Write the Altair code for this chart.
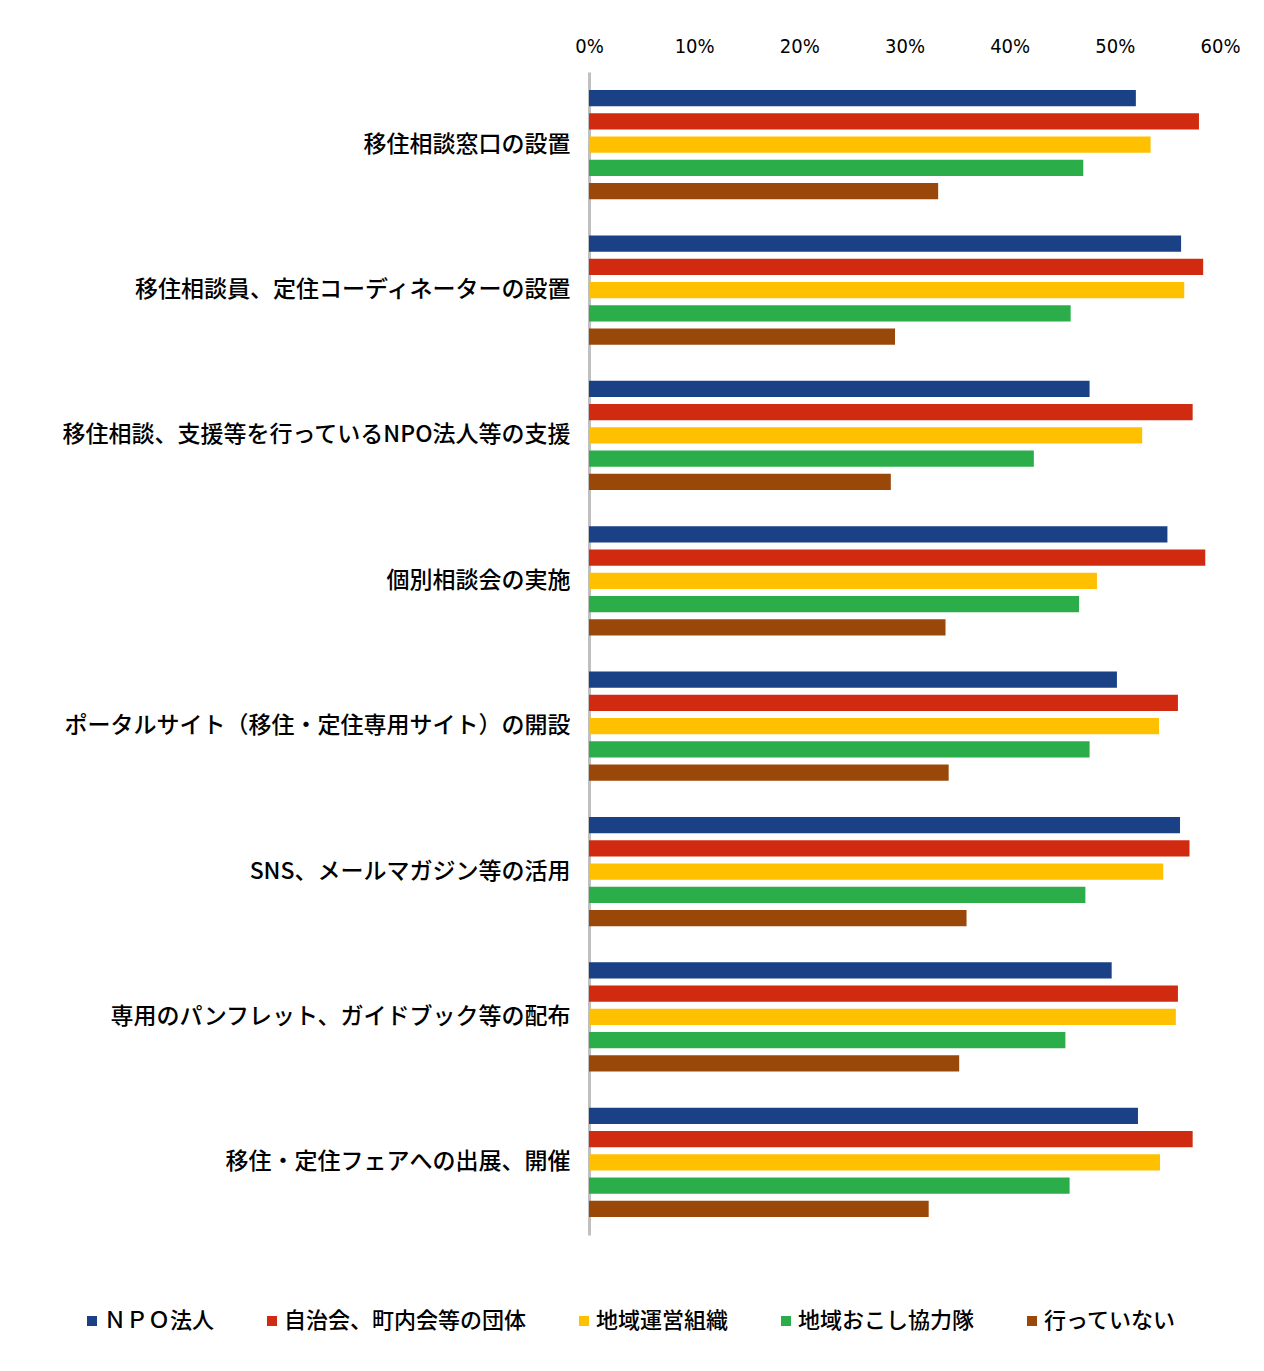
import altair as alt
import pandas as pd

categories = [
    "移住相談窓口の設置",
    "移住相談員、定住コーディネーターの設置",
    "移住相談、支援等を行っているNPO法人等の支援",
    "個別相談会の実施",
    "ポータルサイト（移住・定住専用サイト）の開設",
    "SNS、メールマガジン等の活用",
    "専用のパンフレット、ガイドブック等の配布",
    "移住・定住フェアへの出展、開催",
]
series = ["ＮＰＯ法人", "自治会、町内会等の団体", "地域運営組織", "地域おこし協力隊", "行っていない"]

npo = [52.0, 56.3, 47.6, 55.0, 50.2, 56.2, 49.7, 52.2]
jichikai = [58.0, 58.4, 57.4, 58.6, 56.0, 57.1, 56.0, 57.4]
chiiki_unei = [53.4, 56.6, 52.6, 48.3, 54.2, 54.6, 55.8, 54.3]
kyoryokutai = [47.0, 45.8, 42.3, 46.6, 47.6, 47.2, 45.3, 45.7]
okonatte_inai = [33.2, 29.1, 28.7, 33.9, 34.2, 35.9, 35.2, 32.3]

colors = ["#1a4186", "#d02b10", "#ffc000", "#2bae4a", "#9a480a"]

values = [npo, jichikai, chiiki_unei, kyoryokutai, okonatte_inai]
rows = []
for s, vals in zip(series, values):
    for c, v in zip(categories, vals):
        rows.append({"category": c, "series": s, "value": v / 100})
df = pd.DataFrame(rows)

jp_font = "Noto Sans CJK JP"
num_font = "'DejaVu Sans Condensed', 'Liberation Sans', sans-serif"

chart = (
    alt.Chart(df)
    .mark_bar()
    .encode(
        y=alt.Y(
            "category:N",
            sort=categories,
            scale=alt.Scale(paddingInner=0.2, paddingOuter=0.1),
            axis=alt.Axis(
                title=None,
                ticks=False,
                domain=True,
                domainColor="#c0c0c0",
                domainWidth=3,
                labelFont=jp_font,
                labelFontSize=23,
                labelFontWeight=500,
                labelColor="#000000",
                labelPadding=19,
                labelLimit=600,
                minExtent=576,
                maxExtent=576,
            ),
        ),
        yOffset=alt.YOffset(
            "series:N",
            sort=series,
            scale=alt.Scale(paddingInner=0.3, paddingOuter=0.15),
        ),
        x=alt.X(
            "value:Q",
            scale=alt.Scale(domain=[0, 0.6], nice=False),
            axis=alt.Axis(
                orient="top",
                title=None,
                format=".0%",
                values=[0, 0.1, 0.2, 0.3, 0.4, 0.5, 0.6],
                grid=False,
                ticks=False,
                domain=False,
                labelFlush=False,
                labelFont=num_font,
                labelFontSize=20,
                labelColor="#000000",
                labelPadding=16,
                minExtent=59,
                maxExtent=59,
            ),
        ),
        color=alt.Color(
            "series:N",
            sort=series,
            scale=alt.Scale(domain=series, range=colors),
            legend=alt.Legend(
                title=None,
                orient="none",
                direction="horizontal",
                legendX=-508,
                legendY=1238,
                symbolType="square",
                symbolSize=100,
                symbolStrokeWidth=0,
                labelFont=jp_font,
                labelFontSize=22,
                labelFontWeight=500,
                labelColor="#000000",
                labelLimit=400,
                columnPadding=46,
                labelOffset=1,
            ),
        ),
    )
    .properties(width=631, height=1163)
    .configure_view(stroke=None)
)

chart.save("out.html", embed_options={"renderer": "svg", "actions": False})
